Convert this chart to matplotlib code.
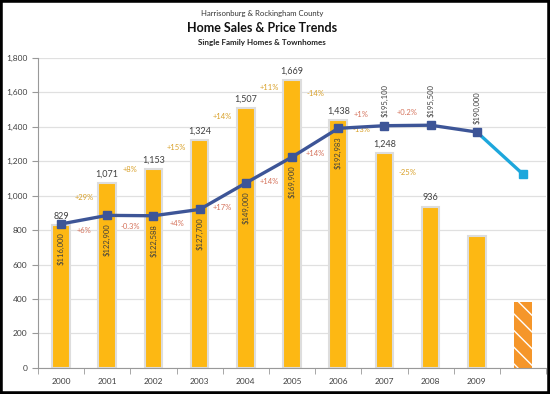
import matplotlib
matplotlib.use('Agg')
import matplotlib.pyplot as plt
import matplotlib.ticker as mticker
from matplotlib.patches import Rectangle
import numpy as np

years = ['2000', '2001', '2002', '2003', '2004', '2005', '2006', '2007', '2008', '2009', '']
sales = [829, 1071, 1153, 1324, 1507, 1669, 1438, 1248, 936, 766]
forecast_sales = 385
prices = [116000, 122900, 122588, 127700, 149000, 169900, 192983, 195100, 195500, 190000]
forecast_price = 156000
sales_change = ['+29%', '+8%', '+15%', '+14%', '+11%', '-14%', '-13%', '-25%']
price_change = ['+6%', '-0.3%', '+4%', '+17%', '+14%', '+14%', '+1%', '+0.2%']

plt.rcParams['font.family'] = ['Lato', 'DejaVu Sans']

bar_col = '#FDB813'
line_col = '#3D5597'
fc_col = '#1DA7DC'
txt = '#404040'

fig = plt.figure(figsize=(5.5, 3.94), dpi=100)
ax = fig.add_axes([0.069, 0.066, 0.924, 0.788])
x = np.arange(len(sales))

# bars
ax.bar(x, sales, width=0.38, color=bar_col, edgecolor='#DDDDDD', linewidth=1.5, zorder=2)
ax.bar(len(sales), forecast_sales, width=0.4, color='#F5962A', edgecolor='white',
       hatch='\\\\', linewidth=0, zorder=2)
for i, v in enumerate(sales[:-1]):
    ax.annotate(f'{v:,}', (i, v), xytext=(0, 3), textcoords='offset points',
                ha='center', va='bottom', fontsize=6.5, color=txt)

for i, s in enumerate(sales_change):
    y = (sales[i] + sales[i + 1]) / 2
    ax.annotate(s, (i + 0.5, y), xytext=(0, 5), textcoords='offset points',
                ha='center', va='center', fontsize=5.5, color='#D9A12A')

ax.set_xlim(-0.5, 10.5)
ax.set_ylim(0, 1800)
ax.set_yticks(np.arange(0, 1801, 200))
ax.yaxis.set_major_formatter(mticker.StrMethodFormatter('{x:,.0f}'))
ax.set_xticks(np.arange(len(years)))
ax.set_xticklabels(years)
ax.set_xticks(np.arange(-0.5, 10.6, 1), minor=True)
ax.tick_params(axis='x', which='major', length=0, labelsize=6, colors=txt, pad=7)
ax.tick_params(axis='x', which='minor', length=4, color='#999999')
ax.tick_params(axis='y', labelsize=6, colors=txt, length=4, color='#999999')
ax.grid(axis='y', color='#E0E0E0', linewidth=0.9, zorder=0)
ax.set_axisbelow(True)
for sp in ['top', 'right']:
    ax.spines[sp].set_visible(False)
for sp in ['left', 'bottom']:
    ax.spines[sp].set_color('#999999')

# price line on hidden secondary axis
ax2 = ax.twinx()
ax2.set_ylim(0, 250000)
ax2.axis('off')
ax2.plot([x[-1], len(sales)], [prices[-1], forecast_price], color=fc_col, linewidth=2.4,
         marker='s', markersize=5.5, markevery=[1], zorder=3)
ax2.plot(x, prices, color=line_col, linewidth=2.4, marker='s', markersize=6, zorder=4)

for i, p in enumerate(prices):
    if i < 7:
        ax2.annotate(f'${p:,}', (i, p), xytext=(0, -6), textcoords='offset points',
                     ha='center', va='top', rotation=90, fontsize=5.5, color=txt)
    else:
        ax2.annotate(f'${p:,}', (i, p), xytext=(0, 6), textcoords='offset points',
                     ha='center', va='bottom', rotation=90, fontsize=5.5, color=txt)

for i, s in enumerate(price_change):
    y = (prices[i] + prices[i + 1]) / 2
    off = -8 if i < 6 else 9
    ax2.annotate(s, (i + 0.5, y), xytext=(0, off), textcoords='offset points',
                 ha='center', va='center', fontsize=5.5, color='#D5735C')

fig.text(0.477, 0.966, 'Harrisonburg & Rockingham County', ha='center', va='center',
         fontsize=5.6, color='#333333')
fig.text(0.477, 0.929, 'Home Sales & Price Trends', ha='center', va='center',
         fontsize=9, fontweight='bold', color='#111111')
fig.text(0.477, 0.892, 'Single Family Homes & Townhomes', ha='center', va='center',
         fontsize=5.8, fontweight='bold', color='#222222')

fig.patches.append(Rectangle((0, 0), 1, 1, transform=fig.transFigure, fill=False,
                             edgecolor='black', linewidth=4))

fig.savefig('out.png', dpi=100)
